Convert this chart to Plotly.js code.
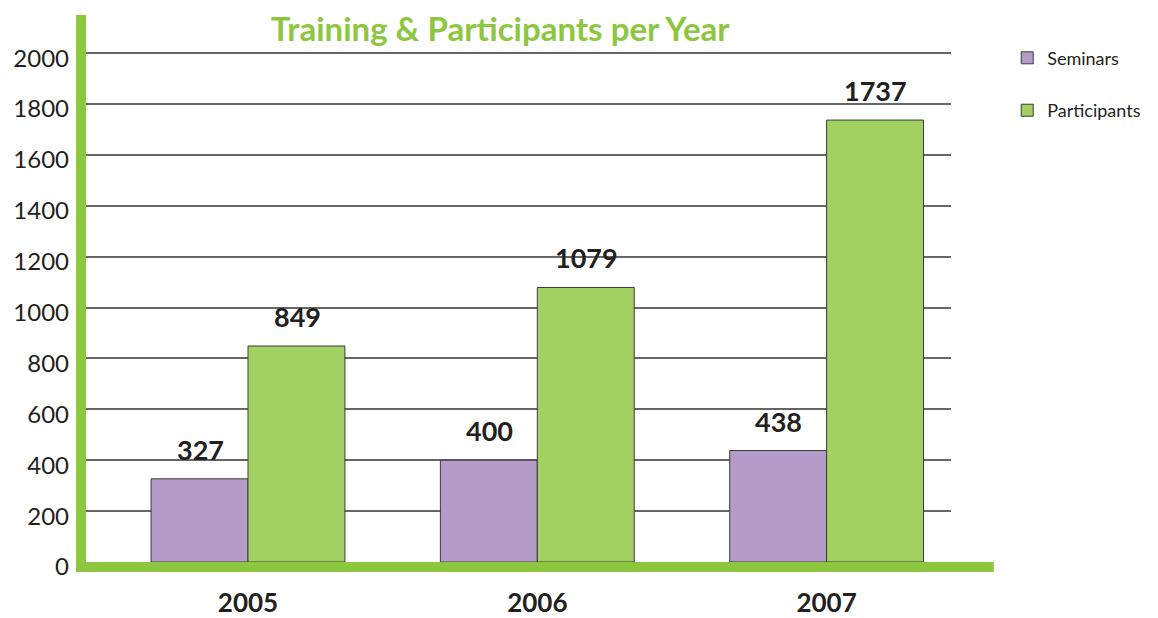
<!DOCTYPE html>
<html>
<head>
<meta charset="utf-8">
<script src="https://cdn.plot.ly/plotly-3.0.1.min.js"></script>
<style>html,body{margin:0;padding:0;background:#fff;}#chart{width:1158px;height:618px;}</style>
</head>
<body>
<div id="chart"></div>
<script>
const years = ['2005', '2006', '2007'];
const seminars = [327, 400, 438];
const participants = [849, 1079, 1737];
const yTicks = [0, 200, 400, 600, 800, 1000, 1200, 1400, 1600, 1800, 2000];

const GREEN = '#8DC63F';
const DARK = '#231F20';
const FONT = 'Lato, "Open Sans", sans-serif';

const traces = [
  {
    type: 'bar', name: 'Seminars', x: years, y: seminars,
    marker: { color: '#B49BC8', line: { color: '#3a3a3a', width: 1 } },
    legendgroup: 'a', hoverinfo: 'x+y'
  },
  {
    type: 'bar', name: 'Participants', x: years, y: participants,
    marker: { color: '#A2D162', line: { color: '#3a3a3a', width: 1 } },
    legendgroup: 'b', hoverinfo: 'x+y'
  }
];

const annotations = [];
years.forEach((yr, i) => {
  annotations.push({ x: i, y: seminars[i], text: String(seminars[i]), xref: 'x', yref: 'y',
    xshift: -48, yshift: 11, yanchor: 'bottom', showarrow: false,
    font: { family: FONT, size: 27, color: DARK, weight: 'bold' } });
  annotations.push({ x: i, y: participants[i], text: String(participants[i]), xref: 'x', yref: 'y',
    xshift: 49, yshift: 11, yanchor: 'bottom', showarrow: false,
    font: { family: FONT, size: 27, color: DARK, weight: 'bold' } });
});

const layout = {
  width: 1158, height: 618,
  margin: { l: 86, r: 203, t: 15, b: 56 },
  paper_bgcolor: '#ffffff', plot_bgcolor: '#ffffff',
  barmode: 'group', bargap: 0.33, bargroupgap: 0,
  title: {
    text: 'Training &amp; Participants per Year',
    font: { family: FONT, size: 33, color: GREEN, weight: 'bold' },
    x: 0.432, xanchor: 'center', y: 0.952, yanchor: 'middle'
  },
  xaxis: {
    type: 'category', range: [-0.56, 2.43],
    showgrid: false, zeroline: false, showline: false, ticks: '',
    tickfont: { family: FONT, size: 26, color: DARK, weight: 'bold' },
    ticklabelstandoff: 23
  },
  yaxis: {
    range: [0, 2150], tickvals: yTicks, ticktext: yTicks.map(String),
    showgrid: true, gridcolor: '#666666', gridwidth: 2,
    zeroline: false, showline: false, ticks: '',
    tickfont: { family: FONT, size: 24, color: DARK },
    ticklabelstandoff: 16, ticklabelshift: 5
  },
  legend: {
    x: 1.065, y: 0.955, xanchor: 'left', yanchor: 'top',
    font: { family: FONT, size: 18, color: DARK },
    tracegroupgap: 26, bgcolor: 'rgba(0,0,0,0)'
  },
  shapes: [
    { type: 'rect', xref: 'paper', yref: 'paper', x0: -0.0115, x1: 0, y0: -0.0183, y1: 1,
      fillcolor: GREEN, line: { width: 0 }, layer: 'above' },
    { type: 'rect', xref: 'paper', yref: 'paper', x0: -0.0115, x1: 1.0495, y0: -0.0183, y1: 0,
      fillcolor: GREEN, line: { width: 0 }, layer: 'above' }
  ],
  annotations: annotations,
  hovermode: 'closest'
};

Plotly.newPlot('chart', traces, layout, { displayModeBar: false, staticPlot: true });
</script>
</body>
</html>
